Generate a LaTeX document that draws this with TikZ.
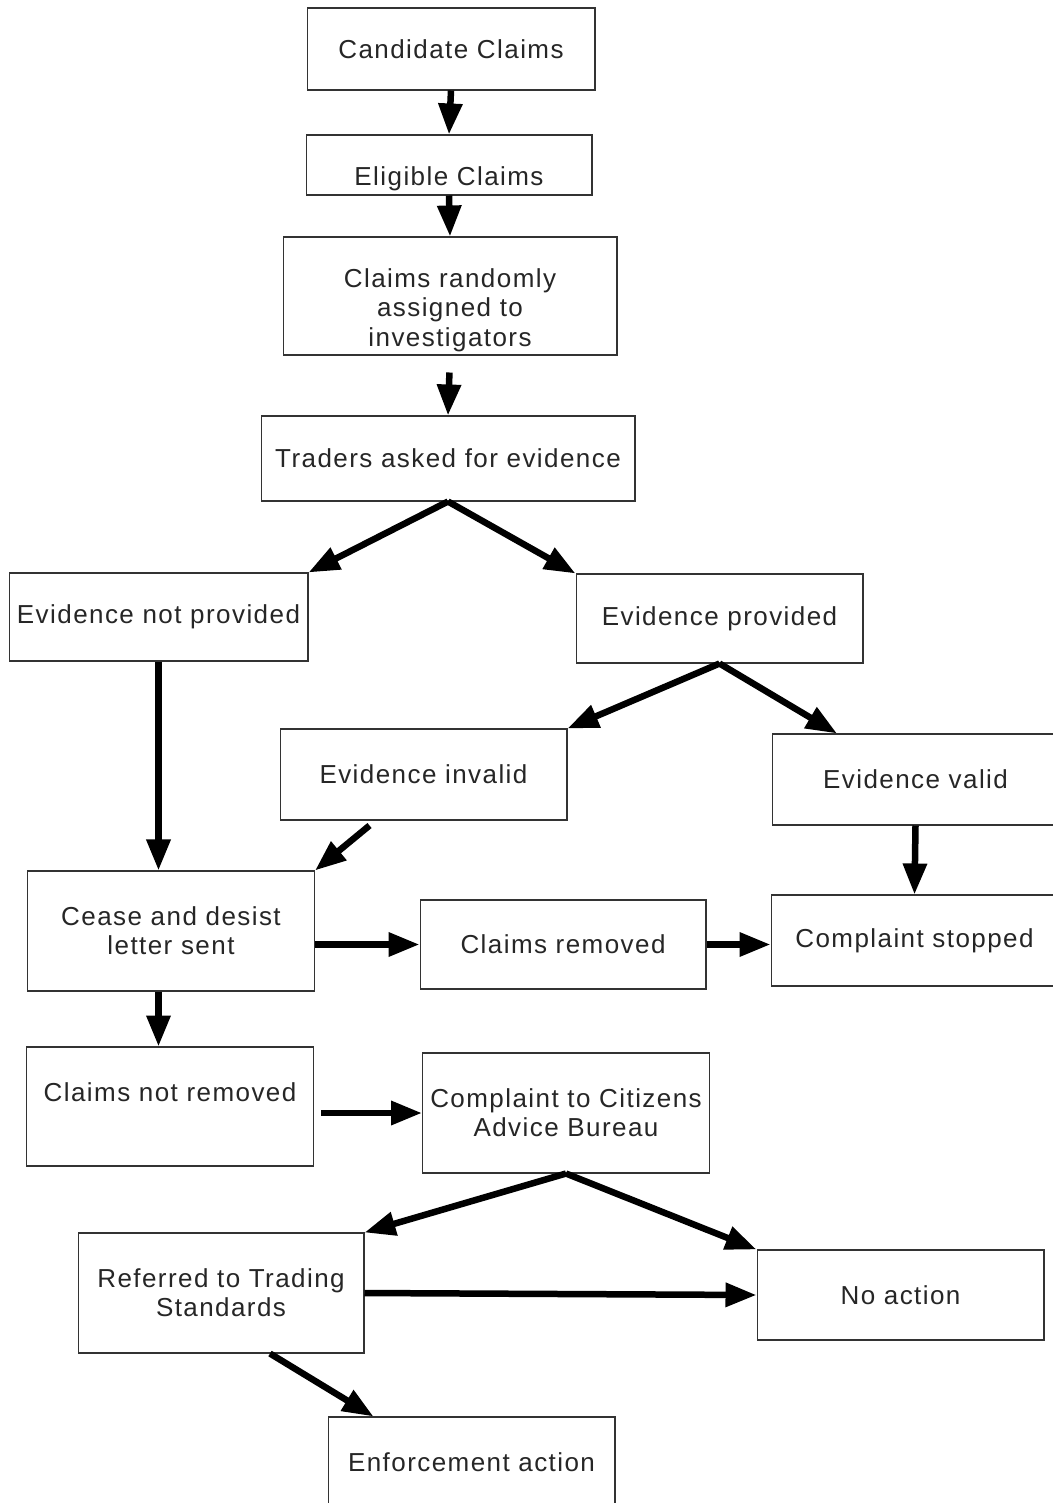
\documentclass[tikz,border=0pt]{standalone}
\usepackage{fontspec}
\newfontfamily\boxfont{Liberation Sans}[LetterSpace=5.5]
\usetikzlibrary{arrows.meta}

\begin{document}
\begin{tikzpicture}[
      x=0.02cm, y=-0.02cm,
      every node/.style={font=\boxfont\fontsize{14.8pt}{16.7pt}\selectfont, text=black!85},
      box/.style={draw=black!80, line width=0.6pt, inner sep=0pt,
                  minimum width=5.74cm, minimum height=1.8cm, align=center},
      arr/.style={-{Triangle[length=0.62cm,width=0.46cm]}, line width=0.13cm}]

        \useasboundingbox (0,0) rectangle (1053,1503);
        \fill[white] (0,0) rectangle (1053,1503);

        % top column
        \node[box, minimum width=5.76cm, minimum height=1.64cm] (cand) at (451,49) {Candidate Claims};
        \node[box, minimum width=5.72cm, minimum height=1.2cm,
              label={[yshift=-0.28cm]center:Eligible Claims}] (elig) at (449,165) {};
        \node[box, minimum width=6.68cm, minimum height=2.36cm,
              label={[align=center, yshift=-0.28cm]center:Claims randomly\\assigned to\\investigators}] (rand) at (450,296) {};
        \node[box, minimum width=7.48cm, minimum height=1.7cm] (trad) at (448,458.5) {Traders asked for evidence};

        % evidence
        \node[box, minimum width=5.98cm, minimum height=1.76cm] (notp) at (158.5,617) {Evidence not provided};
        \node[box, minimum height=1.78cm] (prov) at (719.5,618.5) {Evidence provided};
        \node[box, minimum height=1.82cm] (inval) at (423.5,774.5) {Evidence invalid};
        \node[box, minimum height=1.82cm] (valid) at (915.5,779.5) {Evidence valid};

        % letter
        \node[box, minimum height=2.4cm] (cease) at (171,931) {Cease and desist\\letter sent};
        \node[box, minimum width=5.72cm, minimum height=1.78cm] (crem) at (563,944.5) {Claims removed};
        \node[box, minimum height=1.82cm] (cstop) at (914.5,940.5) {Complaint stopped};
        \node[box, minimum height=2.38cm,
              label={[yshift=0.29cm]center:Claims not removed}] (cnrem) at (170,1106.5) {};
        \node[box, minimum height=2.4cm] (cab) at (566,1113) {Complaint to Citizens\\Advice Bureau};

        % outcome
        \node[box, minimum width=5.72cm, minimum height=2.4cm] (refer) at (221,1293) {Referred to Trading\\Standards};
        \node[box] (noact) at (900.5,1295) {No action};
        \node[box] (enf) at (471.5,1462) {Enforcement action};

        \draw[arr] (cand.south) -- (elig.north);
        \draw[arr] (elig.south) -- (rand.north);
        \draw[arr, shorten <=0.34cm] (rand.south) -- (trad.north);

        \draw[arr] (trad.south) -- (notp.north east);
        \draw[arr] (trad.south) -- (prov.north west);
        \draw[arr] (notp.south) -- (notp.south |- cease.north);
        \draw[arr] (prov.south) -- (inval.north east);
        \draw[arr] (prov.south) -- ([xshift=-1.57cm]valid.north);
        \draw[arr] ([xshift=-1.08cm,yshift=-0.1cm]inval.south) -- (cease.north east);
        \draw[arr] (valid.south) -- (cstop.north);

        \draw[arr] (cease.east |- crem.west) -- (crem.west);
        \draw[arr] (crem.east) -- (crem.east -| cstop.west);
        \draw[arr] (cease.south -| notp.south) -- (cnrem.north -| notp.south);
        \draw[arr] ([xshift=0.14cm]cnrem.east |- cab.west) -- (cab.west);

        \draw[arr] (cab.south) -- (refer.north east);
        \draw[arr] (cab.south) -- (noact.north west);
        \draw[arr] (refer.east) -- (noact.west);
        \draw[arr] ([xshift=0.98cm]refer.south) -- ([xshift=0.92cm]enf.north west);

      \end{tikzpicture}
\end{document}
